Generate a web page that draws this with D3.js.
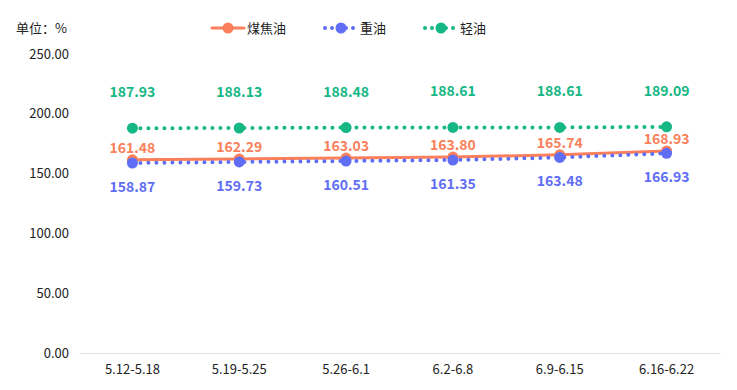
<!DOCTYPE html>
<html>
<head>
<meta charset="utf-8">
<script src="https://cdn.jsdelivr.net/npm/d3@7"></script>
<style>
  body { margin: 0; background: #fff; font-family: "Microsoft YaHei", "Noto Sans CJK SC", sans-serif; }
</style>
</head>
<body>
<div id="chart"></div>
<script>
const categories = ['5.12-5.18', '5.19-5.25', '5.26-6.1', '6.2-6.8', '6.9-6.15', '6.16-6.22'];
const coalTar = [161.48, 162.29, 163.03, 163.80, 165.74, 168.93];
const heavyOil = [158.87, 159.73, 160.51, 161.35, 163.48, 166.93];
const lightOil = [187.93, 188.13, 188.48, 188.61, 188.61, 189.09];
const yTicks = [0, 50, 100, 150, 200, 250];

const w = 737;
const h = 390;
const padLeft = 79, padRight = 720, padTop = 54, padBottom = 353;

const series = [
  { name: '煤焦油', values: coalTar, color: '#fa7f5a', dotted: false, labelDy: -7 },
  { name: '重油', values: heavyOil, color: '#5f6ef5', dotted: true, labelDy: 29 },
  { name: '轻油', values: lightOil, color: '#15b784', dotted: true, labelDy: -31 }
];

const svg = d3.select('#chart').append('svg').attr('width', w).attr('height', h);

const xScale = d3.scaleBand().domain(categories).range([padLeft, padRight]);
const yScale = d3.scaleLinear().domain([0, 250]).range([padBottom, padTop]);

const xAxis = d3.axisBottom(xScale).tickSize(0).tickPadding(12);
const yAxis = d3.axisLeft(yScale).tickValues(yTicks).tickSize(0).tickPadding(10).tickFormat(d3.format('.2f'));

const gx = svg.append('g').attr('transform', 'translate(0,' + padBottom + ')').call(xAxis);
gx.select('.domain').attr('stroke', '#e0e0e0');
gx.selectAll('text').attr('font-size', 13).attr('fill', '#222').style('font-family', '"Microsoft YaHei", "Noto Sans CJK SC", sans-serif');

const gy = svg.append('g').attr('transform', 'translate(' + padLeft + ',0)').call(yAxis);
gy.select('.domain').remove();
gy.selectAll('text').attr('font-size', 13).attr('fill', '#222').style('font-family', '"Microsoft YaHei", "Noto Sans CJK SC", sans-serif');

svg.append('text').attr('x', 16).attr('y', 33).attr('font-size', 13).attr('fill', '#222').text('单位：%');

const cx = d => xScale(d) + xScale.bandwidth() / 2;
const line = d3.line().x((d, i) => cx(categories[i])).y(d => yScale(d));

series.forEach(s => {
  const g = svg.append('g');
  g.append('path')
    .datum(s.values)
    .attr('d', line)
    .attr('fill', 'none')
    .attr('stroke', s.color)
    .attr('stroke-width', s.dotted ? 4 : 3)
    .attr('stroke-linecap', 'round')
    .attr('stroke-dasharray', s.dotted ? '0 8' : null);
  g.selectAll('circle')
    .data(s.values)
    .enter()
    .append('circle')
    .attr('cx', (d, i) => cx(categories[i]))
    .attr('cy', d => yScale(d))
    .attr('r', 5.5)
    .attr('fill', s.color);
  g.selectAll('text')
    .data(s.values)
    .enter()
    .append('text')
    .attr('x', (d, i) => cx(categories[i]))
    .attr('y', d => yScale(d) + s.labelDy)
    .attr('text-anchor', 'middle')
    .attr('font-size', 14)
    .attr('font-weight', 'bold')
    .attr('fill', s.color)
    .text(d => d.toFixed(2));
});

// legend
const legendX = [210, 323, 423];
series.forEach((s, i) => {
  const lg = svg.append('g').attr('transform', 'translate(' + legendX[i] + ',28)');
  lg.append('line')
    .attr('x1', 2).attr('x2', 34).attr('y1', 0).attr('y2', 0)
    .attr('stroke', s.color)
    .attr('stroke-width', s.dotted ? 4 : 3)
    .attr('stroke-linecap', 'round')
    .attr('stroke-dasharray', s.dotted ? '0 7' : null);
  lg.append('circle').attr('cx', 18).attr('cy', 0).attr('r', 5.5).attr('fill', s.color);
  lg.append('text').attr('x', 37).attr('y', 5).attr('font-size', 13).attr('fill', '#222').text(s.name);
});
</script>
</body>
</html>
